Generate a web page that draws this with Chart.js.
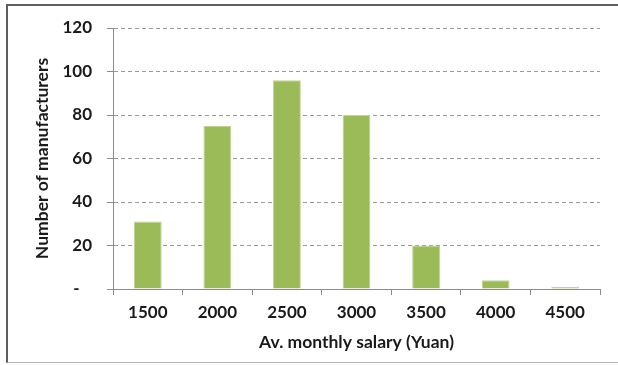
<!DOCTYPE html>
<html>
<head>
<meta charset="utf-8">
<script src="https://cdn.jsdelivr.net/npm/chart.js@4"></script>
<style>
    body { margin: 0; background: #fff; }
    #w { position: relative; width: 618px; height: 365px; }
    #marco {
        position: absolute; left: 6px; top: 4px; width: 612px; height: 359px;
        box-sizing: border-box;
        border-top: 2px solid #5f5f5f; border-left: 2px solid #5f5f5f; border-bottom: 1px solid #b4b4b4;
    }
    #myChart { position: absolute; left: 0; top: 0; }
</style>
</head>
<body>
<div id="w">
    <div id="marco"></div>
    <canvas id="myChart" width="618" height="365"></canvas>
</div>
<script>
var salarios = ['1500', '2000', '2500', '3000', '3500', '4000', '4500']
var fabricantes = [31, 75, 96, 80, 20, 4, 1]
var ticks_y = [0, 20, 40, 60, 80, 100, 120]

var fuente = "Lato, 'Open Sans', sans-serif"

function loadChart() {
    var ctx = document.getElementById("myChart").getContext('2d');

    var myChart = new Chart(ctx, {
        type: 'bar',
        data: {
            labels: salarios,
            datasets: [{
                label: 'Number of manufacturers',
                data: fabricantes,
                backgroundColor: "#9bbb59",
                borderColor: "#bfd494",
                borderWidth: 1,
                barPercentage: 0.4,
                categoryPercentage: 1
            }]
        },
        options: {
            responsive: false,
            animation: false,
            devicePixelRatio: 1,
            layout: { padding: { top: 28, right: 18, left: 0, bottom: 0 } },
            plugins: {
                legend: { display: false },
                tooltip: { enabled: false }
            },
            scales: {
                x: {
                    afterFit: function (s) { s.height = 76 },
                    grid: { drawOnChartArea: false, offset: true, tickLength: 6, color: '#8c8c8c' },
                    border: { color: '#8c8c8c' },
                    ticks: { color: '#1a1a1a', padding: 7, font: { family: fuente, size: 17, weight: 'bold' } },
                    title: {
                        display: true,
                        text: 'Av. monthly salary (Yuan)',
                        color: '#1a1a1a',
                        padding: { top: 0, bottom: 12 },
                        font: { family: fuente, size: 17.5, weight: 'bold' }
                    }
                },
                y: {
                    min: 0,
                    max: 120,
                    afterFit: function (s) { s.width = 113 },
                    afterBuildTicks: function (s) { s.ticks = ticks_y.map(v => ({ value: v })) },
                    grid: { color: '#9a9a9a', tickLength: 6, tickColor: '#8c8c8c', tickBorderDash: [] },
                    border: { color: '#8c8c8c', dash: [4, 3] },
                    ticks: {
                        color: '#1a1a1a',
                        padding: 15,
                        font: { family: fuente, size: 17, weight: 'bold' },
                        callback: function (v) { return v === 0 ? '-   ' : v }
                    },
                    title: {
                        display: true,
                        text: 'Number of manufacturers',
                        color: '#1a1a1a',
                        padding: { top: 32, bottom: 0 },
                        font: { family: fuente, size: 17.5, weight: 'bold' }
                    }
                }
            }
        }
    });
}

loadChart();
</script>
</body>
</html>
